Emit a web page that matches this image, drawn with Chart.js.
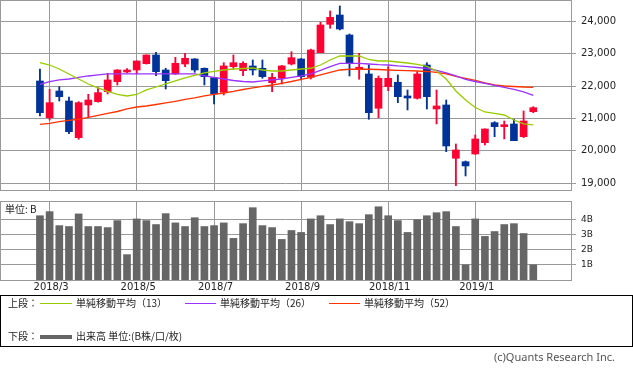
<!DOCTYPE html>
<html><head><meta charset="utf-8">
<script src="https://cdn.jsdelivr.net/npm/chart.js@4.4.1/dist/chart.umd.min.js"></script>
<style>
html,body{margin:0;padding:0;background:#fff;width:633px;height:371px;overflow:hidden;position:relative;font-family:"Noto Sans CJK JP","Noto Sans",sans-serif;}
canvas{position:absolute;left:0;}
#c1{top:0}
#c2{top:196px}
.t{position:absolute;font-size:10px;line-height:12px;height:12px;color:#222;white-space:nowrap}
.ln{position:absolute;height:1px}
#legend{position:absolute;left:0;top:295px;width:633px;height:52px;box-sizing:border-box;border:1px solid #000}
</style></head><body>
<canvas id="c1" width="633" height="191"></canvas>
<canvas id="c2" width="633" height="100"></canvas>
<div class="t" style="left:5px;top:203px">単位: B</div>
<div id="legend"></div>
<div class="t" style="left:8px;top:297px">上段：</div>
<div class="ln" style="left:40px;top:303px;width:32px;background:#99cc00"></div>
<div class="t" style="left:76px;top:297px">単純移動平均（13）</div>
<div class="ln" style="left:185px;top:303px;width:31px;background:#9933ff"></div>
<div class="t" style="left:220px;top:297px">単純移動平均（26）</div>
<div class="ln" style="left:329px;top:303px;width:31px;background:#ff3300"></div>
<div class="t" style="left:364px;top:297px">単純移動平均（52）</div>
<div class="t" style="left:8px;top:330px">下段：</div>
<div class="ln" style="left:40px;top:335px;width:32px;height:4px;background:#666"></div>
<div class="t" style="left:76px;top:330px">出来高 単位:(B株/口/枚)</div>
<div class="t" style="right:18px;top:351px;font-family:'Noto Sans',sans-serif;font-size:11px;color:#555">(c)Quants Research Inc.</div>
<script>
// weekly categories (Monday of each week)
const weeks = ['2018/02/26','2018/03/05','2018/03/12','2018/03/19','2018/03/26','2018/04/02','2018/04/09','2018/04/16','2018/04/23','2018/04/30',
 '2018/05/07','2018/05/14','2018/05/21','2018/05/28','2018/06/04','2018/06/11','2018/06/18','2018/06/25','2018/07/02','2018/07/09',
 '2018/07/16','2018/07/23','2018/07/30','2018/08/06','2018/08/13','2018/08/20','2018/08/27','2018/09/03','2018/09/10','2018/09/17',
 '2018/09/24','2018/10/01','2018/10/08','2018/10/15','2018/10/22','2018/10/29','2018/11/05','2018/11/12','2018/11/19','2018/11/26',
 '2018/12/03','2018/12/10','2018/12/17','2018/12/24','2018/12/31','2019/01/07','2019/01/14','2019/01/21','2019/01/28','2019/02/04',
 '2019/02/11','2019/02/18'];
const open = [22158,21025,21849,21540,20408,21417,21519,21828,22136,22435,22497,22692,22960,22497,22374,22682,22837,22550,22260,21809,22599,22476,22621,22550,22105,22241,22682,22837,22272,23031,23907,24194,23577,22519,22374,21315,21982,22118,21695,21624,22651,21294,21417,19772,19667,19905,20254,20871,20747,20831,20439,21210];
const high = [22528,21902,21982,21664,21519,21747,21951,22395,22510,22537,22780,22965,23043,22550,22889,23012,22850,22560,22270,22722,22960,22753,22806,22806,22395,22640,23062,22850,23140,23969,24318,24472,23608,23012,22651,22312,22599,22343,21880,22445,22722,21880,21571,20213,19689,20491,20680,20902,20923,20976,21232,21365];
const low = [21078,20954,21540,20531,20359,21037,21500,21757,22034,22405,22374,22680,22321,21911,22360,22599,22426,22034,21448,21726,22528,22321,22343,22241,21828,22065,22651,22189,22219,23031,23784,23732,22312,22210,20976,21025,21858,21488,21263,21600,21294,20831,19976,18927,19226,19890,20183,20439,20368,20315,20408,21179];
const close = [21179,21488,21673,20593,21488,21571,21797,22189,22497,22488,22775,22960,22445,22167,22704,22858,22497,22290,21757,22621,22722,22704,22497,22290,22272,22621,22877,22290,23114,23886,24123,23762,22722,22550,21179,22241,22241,21673,21633,22374,21673,21386,20152,20028,19535,20368,20676,20747,20800,20315,20923,21334];
const ma13 = [22722,22651,22528,22374,22219,22065,21942,21834,21741,21695,21741,21880,21972,22065,22158,22250,22327,22405,22451,22497,22528,22543,22559,22497,22466,22466,22497,22528,22550,22651,22806,22929,22929,22929,22821,22775,22775,22744,22713,22667,22605,22466,22219,21849,21571,21340,21201,21155,21108,20954,20831,20800];
const ma26 = [22056,22136,22189,22219,22266,22312,22343,22374,22374,22374,22374,22374,22374,22374,22374,22374,22374,22312,22266,22219,22173,22142,22127,22158,22189,22219,22266,22312,22374,22482,22599,22698,22704,22704,22682,22661,22651,22621,22599,22574,22543,22482,22405,22312,22204,22142,22087,22019,21957,21902,21818,21710];
const ma52 = [20821,20852,20902,20939,20976,21031,21099,21155,21216,21294,21355,21386,21432,21479,21531,21587,21633,21695,21741,21787,21834,21895,21942,21988,22034,22087,22142,22204,22266,22343,22426,22497,22519,22519,22519,22512,22497,22488,22476,22466,22451,22426,22374,22297,22235,22173,22096,22034,22003,21988,21972,21963];
const volume = [4.23,4.50,3.58,3.52,4.35,3.52,3.52,3.45,3.91,1.67,4.02,3.91,3.65,4.37,3.76,3.52,4.10,3.52,3.58,3.76,2.74,3.71,4.76,3.58,3.45,2.67,3.26,3.13,4.02,4.23,3.65,4.02,3.84,3.71,4.30,4.82,4.23,3.91,3.13,3.97,4.23,4.43,4.50,3.52,1.00,4.02,2.87,3.19,3.65,3.71,3.06,1.00];
const tickWeeks = ['2018/03/05','2018/05/07','2018/07/02','2018/09/03','2018/11/05','2019/01/07'];
const tickLabels = ['2018/3','2018/5','2018/7','2018/9','2018/11','2019/1'];
const priceTicks = [19000,20000,21000,22000,23000,24000];
const volumeTicks = [1,2,3,4];

const X_MIN = -4.13, X_MAX = 54.9;
const Y_MIN = 18793, Y_MAX = 24657;
const idx = weeks.map((w,i)=>i);
const tickIdx = tickWeeks.map(w=>weeks.indexOf(w));
const UP = '#ff0033', DOWN = '#003399', GRID = '#999999';
const candleColor = ctx => (close[ctx.dataIndex] >= open[ctx.dataIndex] ? UP : DOWN);

const frame = {id:'frame', afterDraw(chart){
  const a = chart.chartArea, c = chart.ctx;
  c.save(); c.strokeStyle = GRID; c.lineWidth = 1;
  c.strokeRect(a.left+0.5, a.top+0.5, a.right-a.left, a.bottom-a.top);
  c.restore();
}};

const xBase = (showLabels, h) => ({
  type:'linear', min:X_MIN, max:X_MAX, offset:false,
  grid:{color:GRID, drawTicks:false, offset:false},
  border:{display:false},
  ticks: showLabels ? {display:true, autoSkip:false, maxRotation:0, padding:1, labelOffset:1.5,
    color:'#222', font:{family:'DejaVu Sans', size:10},
    callback:(v,i)=>tickLabels[i]} : {display:false},
  afterBuildTicks: s => { s.ticks = tickIdx.map(v=>({value:v})); },
  afterFit: s => { s.height = h; s.paddingLeft = 0; s.paddingRight = 0; }
});
const yFit = s => { s.width = 62; s.paddingTop = 0; s.paddingBottom = 0; };

new Chart(document.getElementById('c1'), {
  type:'bar',
  data:{datasets:[
    {type:'line', label:'単純移動平均(13)', data: idx.map(i=>({x:i,y:ma13[i]})), borderColor:'#99cc00', borderWidth:1.3, pointRadius:0, tension:0, order:1},
    {type:'line', label:'単純移動平均(26)', data: idx.map(i=>({x:i,y:ma26[i]})), borderColor:'#9933ff', borderWidth:1.3, pointRadius:0, tension:0, order:1},
    {type:'line', label:'単純移動平均(52)', data: idx.map(i=>({x:i,y:ma52[i]})), borderColor:'#ff3300', borderWidth:1.3, pointRadius:0, tension:0, order:1},
    {type:'bar', label:'body', data: idx.map(i=>({x:i,y:[open[i],close[i]]})), backgroundColor:candleColor, barThickness:7, grouped:false, minBarLength:2, borderWidth:0, order:2},
    {type:'bar', label:'wick', data: idx.map(i=>({x:i,y:[low[i],high[i]]})), backgroundColor:candleColor, barThickness:1.2, grouped:false, borderWidth:0, order:3}
  ]},
  options:{
    responsive:false, animation:false, maintainAspectRatio:false,
    layout:{padding:{left:0,right:0,top:0,bottom:1}},
    plugins:{legend:{display:false}, tooltip:{enabled:false}},
    scales:{
      x: xBase(false, 0),
      y:{position:'right', min:Y_MIN, max:Y_MAX,
        grid:{color:GRID, tickLength:5}, border:{display:false},
        ticks:{padding:5, color:'#222', font:{family:'DejaVu Sans', size:10},
          callback: v => v.toLocaleString('en-US')},
        afterBuildTicks: s => { s.ticks = priceTicks.map(v=>({value:v})); },
        afterFit: yFit}
    }
  },
  plugins:[frame]
});

new Chart(document.getElementById('c2'), {
  type:'bar',
  data:{datasets:[
    {label:'出来高', data: idx.map(i=>({x:i,y:volume[i]})), backgroundColor:'#666666', barThickness:7, grouped:false, borderWidth:0}
  ]},
  options:{
    responsive:false, animation:false, maintainAspectRatio:false,
    layout:{padding:{left:0,right:0,top:5,bottom:0}},
    plugins:{legend:{display:false}, tooltip:{enabled:false}},
    scales:{
      x: xBase(true, 16),
      y:{position:'right', min:0, max:5.2,
        grid:{color:GRID, tickLength:5}, border:{display:false},
        ticks:{padding:5, color:'#222', font:{family:'DejaVu Sans', size:9},
          callback: v => v + 'B'},
        afterBuildTicks: s => { s.ticks = volumeTicks.map(v=>({value:v})); },
        afterFit: yFit}
    }
  },
  plugins:[frame]
});
</script>
</body></html>
